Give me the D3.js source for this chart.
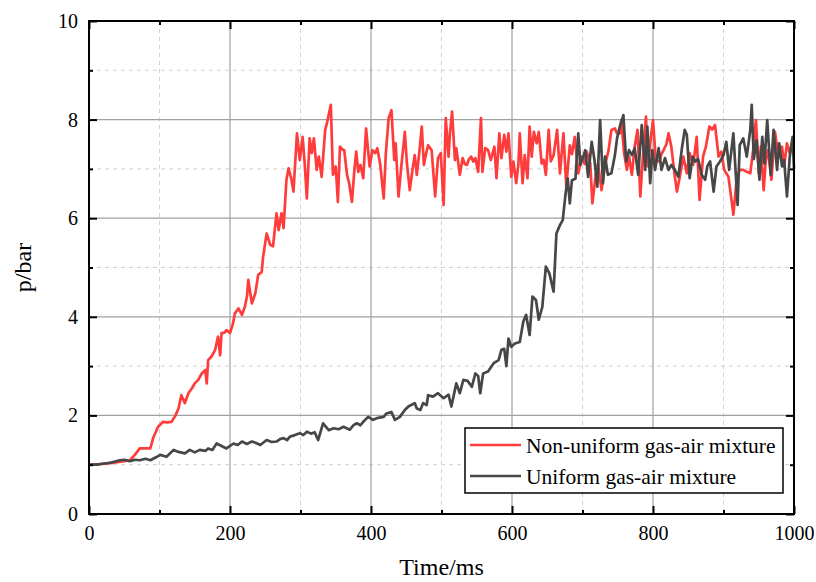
<!DOCTYPE html>
<html><head><meta charset="utf-8">
<script src="https://cdn.jsdelivr.net/npm/d3@7"></script>
<style>
html,body{margin:0;padding:0;background:#fff;}
svg{display:block;}
text{font-family:"Liberation Serif","Times New Roman",serif;fill:#000;}
</style></head>
<body>
<svg id="chart" width="816" height="582"></svg>
<script>
// ---- data ----
const xMajorTicks = [0, 200, 400, 600, 800, 1000];
const xMinorTicks = [100, 300, 500, 700, 900];
const yMajorTicks = [0, 2, 4, 6, 8, 10];
const yMinorTicks = [1, 3, 5, 7, 9];
const seriesNames = ["Non-uniform gas-air mixture", "Uniform gas-air mixture"];

const tRed = [0,10,20,30,40,50,58,65,72,80,87,91,98,105,111,117,122,127,131,136,141,146,150,155,160,165,167,169,174,179,183,186,188,192,195,200,204,207,212,217,221,224,226,231,236,240,245,247,252,257,261,266,269,273,276,280,283,287,290,295,299,303,306,309,313,316,319,323,326,330,335,338,343,346,350,353,356,359,362,366,369,373,376,379,382,385,389,393,398,402,406,409,413,418,421,425,429,433,435,439,443,448,451,455,459,462,465,469,472,475,478,481,486,491,495,499,503,506,510,512,515,519,521,526,530,533,536,539,542,545,548,552,556,558,562,566,570,575,578,582,585,589,592,595,599,602,606,609,611,615,618,622,625,628,631,635,638,642,645,648,652,655,659,664,668,673,677,682,685,689,694,699,703,706,711,714,719,722,727,732,737,741,746,749,753,755,759,763,766,770,774,778,782,785,790,793,797,800,804,809,812,815,819,822,826,831,834,838,843,848,852,857,862,866,871,875,880,884,888,893,897,901,907,912,914,919,923,928,933,938,942,946,950,953,957,960,963,968,973,978,983,986,990,994,998,1000];
const pRed = [1.0,1.0,1.02,1.03,1.05,1.07,1.09,1.2,1.33,1.33,1.33,1.54,1.77,1.87,1.86,1.87,1.98,2.14,2.41,2.25,2.45,2.55,2.65,2.72,2.85,2.92,2.65,3.12,3.2,3.33,3.6,3.22,3.67,3.68,3.73,3.67,3.85,4.07,4.17,4.04,4.2,4.41,4.75,4.27,4.48,4.85,4.91,5.22,5.69,5.46,5.43,6.1,5.76,6.1,5.8,6.77,7.01,6.8,6.54,7.72,7.18,7.65,7.1,6.4,7.62,7.32,7.62,6.98,7.25,6.84,7.79,7.96,8.3,6.88,7.05,6.33,7.45,7.4,7.38,6.88,6.71,6.33,6.9,7.35,6.94,7.08,6.81,7.82,7.05,7.38,7.32,7.42,7.1,6.4,7.3,8.03,8.19,7.18,7.52,6.44,7.05,7.75,7.1,6.57,7.0,7.28,6.88,7.4,7.86,7.08,7.3,7.48,7.38,6.44,7.22,7.32,6.27,8.03,7.25,7.72,8.16,7.18,7.42,6.88,7.22,7.1,7.08,7.2,7.25,7.15,7.22,6.94,8.03,6.94,7.42,7.38,7.18,7.45,6.81,7.72,7.22,7.69,7.35,7.72,6.84,7.15,6.71,7.08,7.72,6.71,7.28,6.81,7.86,7.25,7.75,7.52,7.75,7.11,7.18,6.88,7.79,7.15,7.28,7.79,6.91,7.72,6.64,7.48,7.3,7.65,6.91,7.25,7.1,7.35,7.11,6.3,6.91,7.11,6.57,7.08,7.38,7.79,7.82,7.72,7.72,7.99,7.32,6.98,7.25,6.88,7.45,7.79,6.44,7.11,8.06,7.05,7.65,7.99,7.18,7.15,7.3,7.38,7.5,7.72,7.45,6.84,6.54,6.84,7.25,6.91,7.32,7.08,7.65,6.37,7.25,7.45,7.86,7.8,7.89,7.25,7.35,6.98,6.84,6.30,6.07,6.84,6.98,6.98,6.94,6.91,7.38,7.99,6.91,7.45,6.57,7.18,7.38,6.78,7.75,7.25,7.45,7.05,7.52,7.32,7.58,7.5];

const tGray = [0,10,20,30,44,50,58,65,72,80,87,95,101,110,120,127,136,143,150,157,165,169,175,181,188,195,205,211,217,224,231,237,243,252,259,266,271,276,281,285,292,299,304,309,315,320,325,332,340,347,354,361,370,375,380,385,389,396,403,410,418,422,429,434,441,448,453,457,462,465,470,474,479,481,488,495,503,510,514,521,526,531,537,543,548,552,555,559,566,574,581,585,589,592,595,599,604,611,616,620,625,629,634,638,643,648,653,659,663,668,672,676,679,682,685,690,694,697,701,704,708,713,717,721,725,729,732,736,741,746,749,753,758,762,766,770,774,779,784,789,792,796,799,803,808,812,817,822,826,831,836,841,845,848,852,856,860,864,869,874,877,881,886,890,895,900,904,908,914,920,923,928,933,938,940,943,947,951,955,958,962,967,971,976,979,983,986,990,994,998,1000];
const pGray = [1.0,1.0,1.02,1.04,1.09,1.1,1.07,1.1,1.09,1.12,1.09,1.15,1.2,1.16,1.30,1.26,1.23,1.3,1.25,1.3,1.28,1.33,1.3,1.43,1.38,1.33,1.43,1.4,1.47,1.42,1.47,1.44,1.40,1.50,1.46,1.47,1.52,1.54,1.5,1.57,1.6,1.64,1.6,1.67,1.63,1.66,1.5,1.84,1.7,1.74,1.72,1.77,1.71,1.8,1.84,1.8,1.87,1.97,1.91,1.95,1.97,2.04,2.07,1.91,1.97,2.11,2.18,2.21,2.25,2.14,2.11,2.25,2.21,2.41,2.38,2.45,2.35,2.42,2.18,2.65,2.45,2.72,2.7,2.58,2.85,2.8,2.45,2.85,2.89,3.06,3.12,3.33,3.35,3.0,3.56,3.39,3.46,3.49,3.9,4.04,3.63,4.41,4.34,3.94,4.2,5.02,4.88,4.51,5.69,5.86,5.96,6.5,6.81,6.3,6.77,6.8,7.72,7.08,7.25,7.38,6.84,7.55,7.18,6.64,7.99,6.71,7.25,6.88,6.91,7.28,7.62,7.86,8.09,7.15,7.38,7.28,7.42,6.88,7.89,6.98,7.86,6.71,7.38,6.98,7.42,6.98,7.22,6.98,7.08,6.98,6.84,7.42,7.79,7.69,6.81,7.25,7.15,7.2,6.88,6.78,7.05,7.15,6.54,7.05,7.15,7.28,7.55,6.98,7.72,6.27,7.48,7.62,7.25,7.79,8.3,7.2,7.58,6.78,7.65,7.11,7.99,6.88,7.79,6.98,7.52,7.05,7.18,6.44,7.25,7.65,7.0];

// ---- layout ----
const L = 89, R = 794, T = 21, B = 514;
const svg = d3.select("#chart");
const x = d3.scaleLinear().domain([0, 1000]).range([L, R]);
const y = d3.scaleLinear().domain([0, 10]).range([B, T]);

// grid
const grid = svg.append("g");
grid.selectAll(".gxm").data(xMinorTicks).join("line")
  .attr("x1", d => x(d)).attr("x2", d => x(d)).attr("y1", T).attr("y2", B)
  .attr("stroke", "#d0d0d0").attr("stroke-width", 1).attr("stroke-dasharray", "4,4");
grid.selectAll(".gym").data(yMinorTicks).join("line")
  .attr("x1", L).attr("x2", R).attr("y1", d => y(d)).attr("y2", d => y(d))
  .attr("stroke", "#d0d0d0").attr("stroke-width", 1).attr("stroke-dasharray", "4,4");
grid.selectAll(".gxM").data(xMajorTicks.slice(1, -1)).join("line")
  .attr("x1", d => x(d)).attr("x2", d => x(d)).attr("y1", T).attr("y2", B)
  .attr("stroke", "#a0a0a0").attr("stroke-width", 1.2);
grid.selectAll(".gyM").data(yMajorTicks.slice(1, -1)).join("line")
  .attr("x1", L).attr("x2", R).attr("y1", d => y(d)).attr("y2", d => y(d))
  .attr("stroke", "#a0a0a0").attr("stroke-width", 1.2);

// lines
const line = (ts) => d3.line().x((d, i) => x(ts[i])).y(d => y(d));
svg.append("path").datum(pRed).attr("d", line(tRed))
  .attr("fill", "none").attr("stroke", "#ff3c3c").attr("stroke-width", 2.7).attr("stroke-linejoin", "round");
svg.append("path").datum(pGray).attr("d", line(tGray))
  .attr("fill", "none").attr("stroke", "#474747").attr("stroke-width", 2.7).attr("stroke-linejoin", "round");

// axes
function styleAxis(g) {
  g.select(".domain").remove();
  g.selectAll(".tick line").attr("stroke", "#000").attr("stroke-width", 2);
  g.selectAll(".tick text").style("font-size", "20px").style("font-family", '"Liberation Serif", serif').attr("fill", "#000");
}
svg.append("g").attr("transform", `translate(0,${B})`)
  .call(d3.axisBottom(x).tickValues(xMajorTicks).tickSize(-8).tickPadding(12).tickFormat(d3.format("d")))
  .call(styleAxis);
svg.append("g").attr("transform", `translate(0,${B})`)
  .call(d3.axisBottom(x).tickValues(xMinorTicks).tickSize(-4).tickFormat(""))
  .call(styleAxis);
svg.append("g").attr("transform", `translate(0,${T})`)
  .call(d3.axisTop(x).tickValues(xMajorTicks).tickSize(-8).tickFormat(""))
  .call(styleAxis);
svg.append("g").attr("transform", `translate(0,${T})`)
  .call(d3.axisTop(x).tickValues(xMinorTicks).tickSize(-4).tickFormat(""))
  .call(styleAxis);
svg.append("g").attr("transform", `translate(${L},0)`)
  .call(d3.axisLeft(y).tickValues(yMajorTicks).tickSize(-8).tickPadding(11).tickFormat(d3.format("d")))
  .call(styleAxis);
svg.append("g").attr("transform", `translate(${L},0)`)
  .call(d3.axisLeft(y).tickValues(yMinorTicks).tickSize(-4).tickFormat(""))
  .call(styleAxis);
svg.append("g").attr("transform", `translate(${R},0)`)
  .call(d3.axisRight(y).tickValues(yMajorTicks).tickSize(-8).tickFormat(""))
  .call(styleAxis);
svg.append("g").attr("transform", `translate(${R},0)`)
  .call(d3.axisRight(y).tickValues(yMinorTicks).tickSize(-4).tickFormat(""))
  .call(styleAxis);

// frame
svg.append("rect").attr("x", L).attr("y", T).attr("width", R - L).attr("height", B - T)
  .attr("fill", "none").attr("stroke", "#000").attr("stroke-width", 2);

// axis titles
svg.append("text").attr("x", (L + R) / 2).attr("y", 575).attr("text-anchor", "middle")
  .style("font-size", "24px").text("Time/ms");
svg.append("text").attr("transform", `translate(31,${(T + B) / 2}) rotate(-90)`).attr("text-anchor", "middle")
  .style("font-size", "24px").text("p/bar");

// legend
const lg = svg.append("g");
lg.append("rect").attr("x", 465).attr("y", 428).attr("width", 318).attr("height", 65)
  .attr("fill", "#fff").attr("stroke", "#000").attr("stroke-width", 1.5);
const legendColors = ["#ff3c3c", "#474747"];
seriesNames.forEach((name, i) => {
  const cy = 445 + i * 31;
  lg.append("line").attr("x1", 470).attr("x2", 521).attr("y1", cy).attr("y2", cy)
    .attr("stroke", legendColors[i]).attr("stroke-width", 2.7);
  lg.append("text").attr("x", 526).attr("y", cy).attr("dy", "0.35em")
    .style("font-size", "21.5px").text(name);
});
</script>
</body></html>
